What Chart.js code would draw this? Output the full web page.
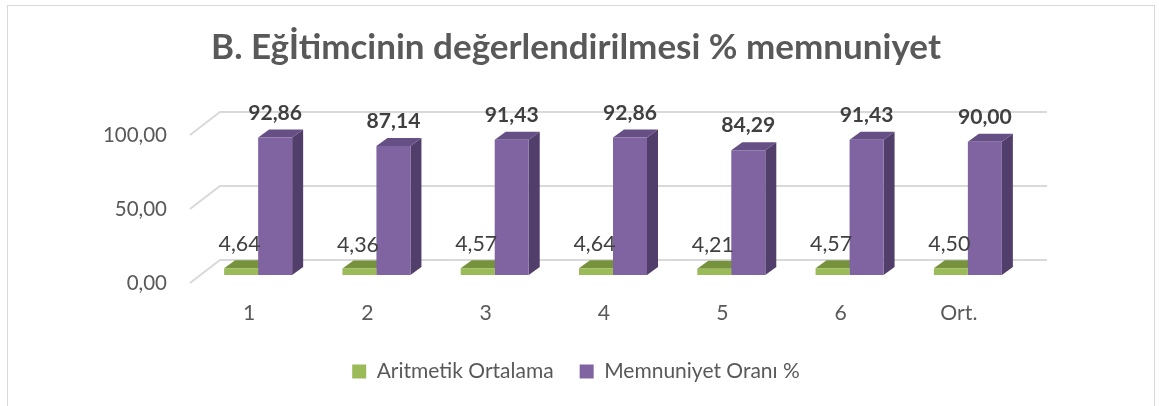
<!DOCTYPE html>
<html><head><meta charset="utf-8">
<script src="https://cdn.jsdelivr.net/npm/chart.js@4.4.1/dist/chart.umd.min.js"></script>
<style>html,body{margin:0;padding:0;background:#fff;overflow:hidden}#wrap{width:1159px;height:406px}</style>
</head><body><div id="wrap"><canvas id="c" width="1159" height="406"></canvas></div>
<script>
// ---- data ----
const categories = ['1', '2', '3', '4', '5', '6', 'Ort.'];
const aritmetikOrtalama = [4.64, 4.36, 4.57, 4.64, 4.21, 4.57, 4.50];
const memnuniyetOrani = [92.86, 87.14, 91.43, 92.86, 84.29, 91.43, 90.00];
const yTickValues = [0, 50, 100];
const seriesNames = ['Aritmetik Ortalama', 'Memnuniyet Oranı %'];
const chartTitle = 'B. Eğİtimcinin değerlendirilmesi % memnuniyet';

// ---- style ----
const FAMILY = 'Lato, "Open Sans", sans-serif';
const TXT = '#595959', LBL = '#404040', GRID = '#d9d9d9';
const COLORS = {
  front: ['#9bbb59', '#8064a2'],
  top: ['#76923c', '#654f84'],
  side: ['#6a8535', '#523e6b']
};
const fmt = v => v.toFixed(2).replace('.', ',');

function fitSize(text, weight, target) {
  const c = document.createElement('canvas').getContext('2d');
  c.font = weight + ' 100px ' + FAMILY;
  return Math.round(1000 * target / c.measureText(text).width) / 10;
}
const titleSize = fitSize(chartTitle, 'bold', 730);
const yTickSize = fitSize('100,00', 'normal', 64);
const xTickSize = fitSize('Ort.', 'normal', 37);
const boldLblSize = fitSize('92,86', 'bold', 54);
const regLblSize = fitSize('4,64', 'normal', 42);
const legSize = (fitSize(seriesNames[0], 'normal', 178) + fitSize(seriesNames[1], 'normal', 195)) / 2;

// target geometry of the bar plane
const T = {left: 199, right: 1027, top: 127, bottom: 275};
const CENTER = 576;                 // horizontal centre of title / legend
const padLeft = 80;
const padRight = 1159 - (2 * CENTER - padLeft);
let yAxisWidth = T.left - padLeft, xAxisHeight = 50;
const rightSpacer = (2 * CENTER - padLeft) - T.right;
const titleTop = 48 - 0.6 * titleSize;

const D = {dx: 11, dy: -8};          // bar depth
const FRONT = {dx: -9, dy: 8};       // floor front edge relative to bar plane
const WALL = {dx: 21, dy: -15};      // back wall relative to bar plane

const plugin3d = {
  id: 'plugin3d',
  beforeDraw(chart) {
    const ctx = chart.ctx;
    ctx.save();
    ctx.fillStyle = '#fff';
    ctx.fillRect(0, 0, chart.width, chart.height);
    ctx.strokeStyle = '#d9d9d9';
    ctx.lineWidth = 1;
    ctx.strokeRect(7.5, 5.5, 1147, 600);
    ctx.restore();
  },
  beforeDatasetsDraw(chart) {
    const ctx = chart.ctx, y = chart.scales.y, a = chart.chartArea;
    ctx.save();
    ctx.strokeStyle = GRID;
    ctx.lineWidth = 2;
    yTickValues.forEach(v => {
      const py = y.getPixelForValue(v);
      ctx.beginPath();
      ctx.moveTo(a.left + FRONT.dx, py + FRONT.dy);
      ctx.lineTo(a.left + WALL.dx, py + WALL.dy);
      ctx.lineTo(a.right + WALL.dx - 1, py + WALL.dy);
      ctx.stroke();
    });
    chart.data.datasets.forEach((ds, di) => {
      const meta = chart.getDatasetMeta(di);
      meta.data.forEach(el => {
        const p = el.getProps(['x', 'y', 'base', 'width'], true);
        const x1 = p.x - p.width / 2, x2 = p.x + p.width / 2;
        ctx.fillStyle = COLORS.side[di];
        ctx.beginPath();
        ctx.moveTo(x2, p.y); ctx.lineTo(x2 + D.dx, p.y + D.dy);
        ctx.lineTo(x2 + D.dx, p.base + D.dy); ctx.lineTo(x2, p.base);
        ctx.closePath(); ctx.fill();
        ctx.fillStyle = COLORS.top[di];
        ctx.beginPath();
        ctx.moveTo(x1, p.y); ctx.lineTo(x2, p.y);
        ctx.lineTo(x2 + D.dx, p.y + D.dy); ctx.lineTo(x1 + D.dx, p.y + D.dy);
        ctx.closePath(); ctx.fill();
      });
    });
    ctx.restore();
  },
  afterDatasetsDraw(chart) {
    const ctx = chart.ctx;
    ctx.save();
    ctx.textAlign = 'center';
    ctx.textBaseline = 'alphabetic';
    ctx.fillStyle = LBL;
    chart.data.datasets.forEach((ds, di) => {
      const meta = chart.getDatasetMeta(di);
      ctx.font = (di === 1 ? 'bold ' + boldLblSize : 'normal ' + regLblSize) + 'px ' + FAMILY;
      meta.data.forEach((el, i) => {
        const p = el.getProps(['x', 'y'], true);
        ctx.fillText(fmt(ds.data[i]), di === 1 ? p.x : p.x - 1.5, p.y - (di === 1 ? 18 : 17));
      });
    });
    ctx.restore();
  }
};

const chart = new Chart(document.getElementById('c'), {
  type: 'bar',
  data: {
    labels: categories,
    datasets: [
      {label: seriesNames[0], data: aritmetikOrtalama, backgroundColor: COLORS.front[0], borderWidth: 0},
      {label: seriesNames[1], data: memnuniyetOrani, backgroundColor: COLORS.front[1], borderWidth: 0}
    ]
  },
  options: {
    responsive: false,
    devicePixelRatio: 1,
    animation: false,
    events: [],
    categoryPercentage: 0.575,
    barPercentage: 1,
    layout: {padding: {left: padLeft, right: padRight, top: titleTop, bottom: 14}},
    scales: {
      x: {
        grid: {display: false, drawTicks: false},
        border: {display: false},
        ticks: {color: TXT, font: {family: FAMILY, size: xTickSize}, padding: 38 - 0.6 * xTickSize, labelOffset: -9},
        afterFit(s) { s.height = xAxisHeight; }
      },
      y: {
        min: 0, max: 100,
        grid: {display: false, drawTicks: false},
        border: {display: false},
        afterBuildTicks(s) { s.ticks = yTickValues.map(v => ({value: v})); },
        ticks: {color: TXT, font: {family: FAMILY, size: yTickSize}, padding: 32, labelOffset: 8, callback: v => fmt(v)},
        afterFit(s) { s.width = yAxisWidth; }
      },
      spacer: {
        type: 'linear', position: 'right', min: 0, max: 100,
        grid: {display: false, drawTicks: false},
        border: {display: false},
        ticks: {display: false},
        afterFit(s) { s.width = rightSpacer; }
      }
    },
    plugins: {
      tooltip: {enabled: false},
      title: {
        display: true, text: chartTitle, color: TXT,
        font: {family: FAMILY, size: titleSize, weight: 'bold', lineHeight: 1.2},
        padding: {top: 0, bottom: 10}
      },
      legend: {
        position: 'bottom',
        labels: {color: TXT, font: {family: FAMILY, size: legSize}, boxWidth: 14, boxHeight: 14, padding: 26}
      }
    }
  },
  plugins: [plugin3d]
});

// pin the plot area to the reference geometry
for (let k = 0; k < 3; k++) {
  const a = chart.chartArea;
  yAxisWidth += T.left - a.left;
  xAxisHeight += a.bottom - T.bottom;
  const tp = chart.options.plugins.title.padding;
  chart.options.plugins.title.padding = {top: 0, bottom: tp.bottom + (T.top - a.top)};
  chart.update('none');
}
</script></body></html>
